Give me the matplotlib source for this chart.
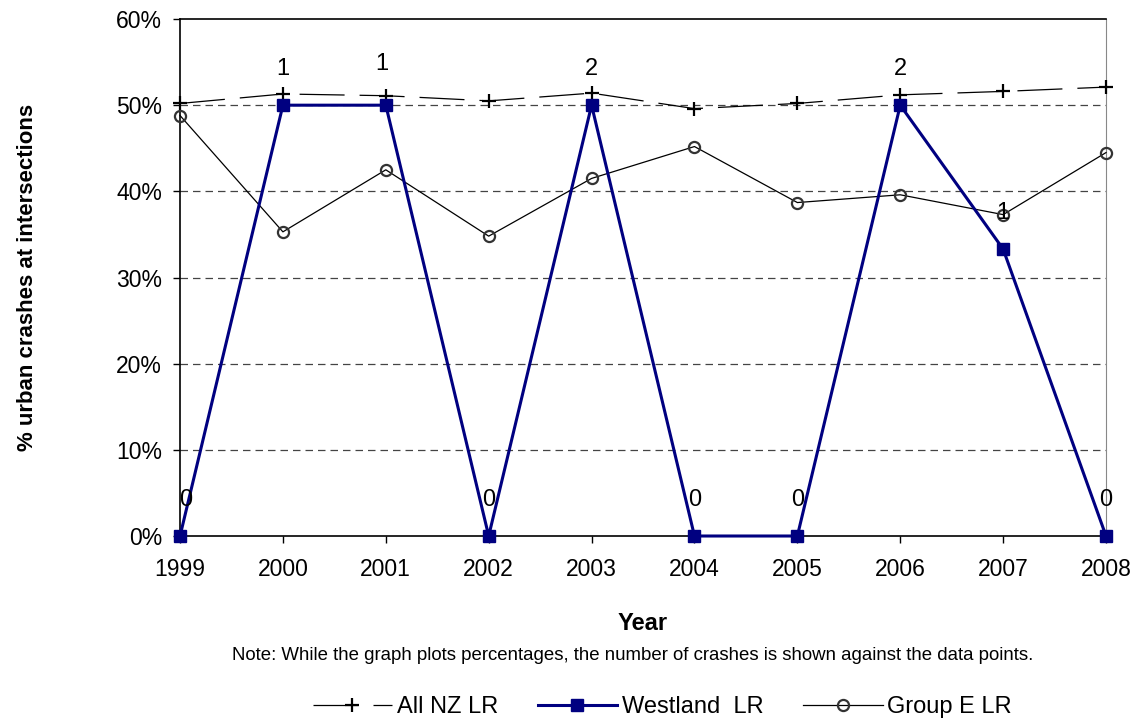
import matplotlib.pyplot as plt
from matplotlib.ticker import FuncFormatter

plt.rcParams['font.family'] = ['Liberation Sans', 'DejaVu Sans']

years = [1999, 2000, 2001, 2002, 2003, 2004, 2005, 2006, 2007, 2008]
all_nz = [50.2, 51.3, 51.1, 50.5, 51.4, 49.6, 50.2, 51.2, 51.6, 52.1]
westland = [0, 50, 50, 0, 50, 0, 0, 50, 33.3, 0]
group_e = [48.8, 35.3, 42.5, 34.8, 41.5, 45.2, 38.7, 39.6, 37.3, 44.5]
crash_counts = ['0', '1', '1', '0', '2', '0', '0', '2', '1', '0']
# nudges for the count labels (points), mostly straight above the marker
label_offsets = [(4, 26), (0, 26), (-3, 30), (0, 26), (0, 26),
                 (0, 26), (0, 26), (0, 26), (0, 26), (0, 26)]


def plot_chart():
    fig = plt.figure(figsize=(11.38, 7.26), dpi=100)
    ax = fig.add_axes([0.1582, 0.2617, 0.8137, 0.7121])

    ax.plot(years, all_nz, color='black', lw=0.9, dashes=(36, 12),
            marker='+', ms=10, mew=1.6, label='All NZ LR', zorder=3,
            clip_on=False)
    ax.plot(years, group_e, color='black', lw=0.9, marker='o', ms=8,
            mfc='none', mec='#333333', mew=1.6, label='Group E LR', zorder=4,
            clip_on=False)
    ax.plot(years, westland, color='#000080', lw=2.2, marker='s', ms=9,
            label='Westland  LR', zorder=5, clip_on=False)

    for x, y, txt, off in zip(years, westland, crash_counts, label_offsets):
        ax.annotate(txt, (x, y), xytext=off, textcoords='offset points',
                    ha='center', va='center', fontsize=17, zorder=6)

    ax.set_xlim(1999, 2008)
    ax.set_ylim(0, 60)
    ax.set_xticks(years)
    ax.set_yticks(range(0, 61, 10))
    ax.yaxis.set_major_formatter(FuncFormatter(lambda v, p: f'{v:.0f}%'))
    ax.tick_params(labelsize=16.5, direction='out', length=5, width=1)
    ax.tick_params(axis='x', pad=11)
    ax.tick_params(axis='y', pad=8)
    for g in range(10, 60, 10):
        ax.axhline(g, color='#444444', lw=0.9, dashes=(6, 4), zorder=1)
    ax.spines['right'].set_color('#888888')
    for s in ['left', 'bottom', 'top']:
        ax.spines[s].set_linewidth(1.2)

    ax.set_xlabel('Year', fontsize=17, fontweight='bold', labelpad=22)
    ax.set_ylabel('% urban crashes at intersections', fontsize=16,
                  fontweight='bold', labelpad=56)
    fig.text(0.556, 0.0965, 'Note: While the graph plots percentages, the number '
             'of crashes is shown against the data points.',
             ha='center', va='center', fontsize=13.4)

    handles, labels = ax.get_legend_handles_labels()
    order = [0, 2, 1]
    fig.legend([handles[i] for i in order], [labels[i] for i in order],
               loc='center', bbox_to_anchor=(0.582, 0.026), ncol=3,
               frameon=False, fontsize=17, handlelength=3.35,
               columnspacing=1.7, handletextpad=0.2)

    fig.savefig('out.png', dpi=100)


if __name__ == "__main__":
    plot_chart()
